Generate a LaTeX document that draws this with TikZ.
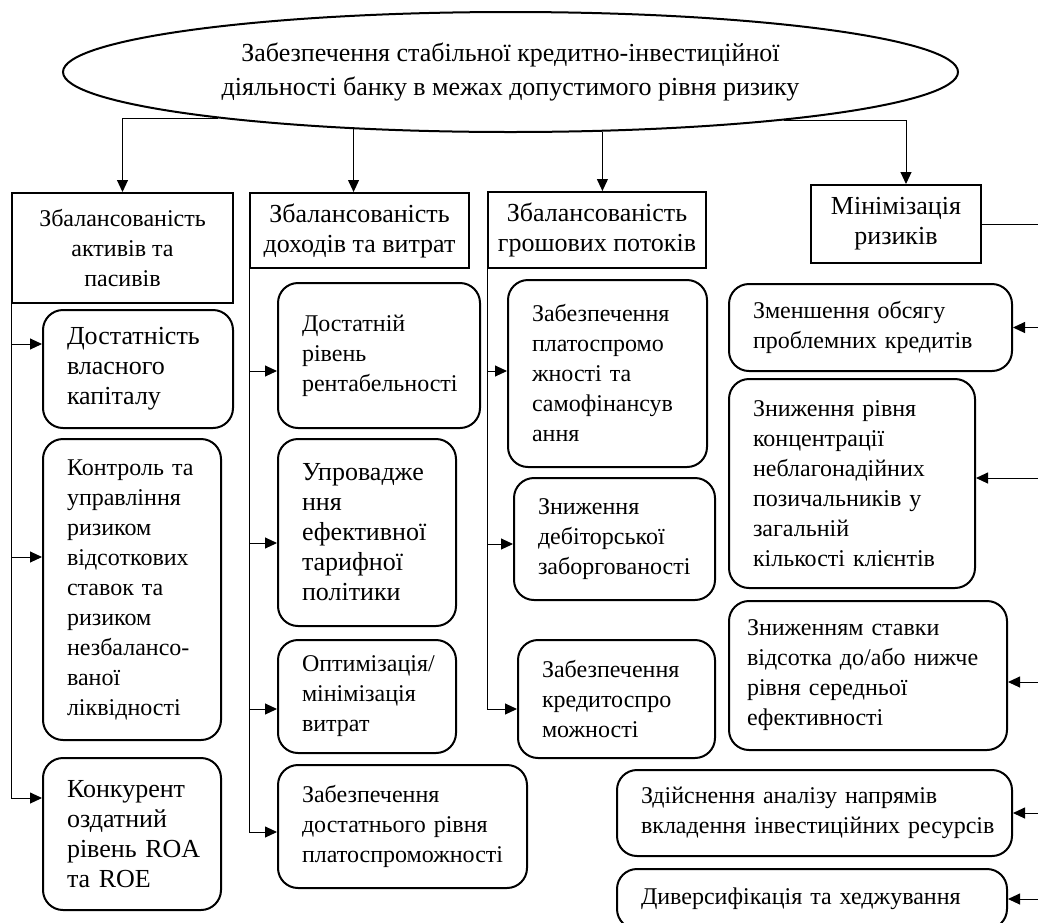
\documentclass[tikz,border=0pt]{standalone}
\usepackage{fontspec}
\setmainfont{Liberation Serif}
\usetikzlibrary{arrows.meta,shapes.geometric}

\begin{document}
\begin{tikzpicture}[x=.5pt,y=-.5pt,
 hd/.style={draw,line width=1pt,align=center,inner sep=2pt,font=\fontsize{12}{15}\selectfont},
 bx/.style={draw,line width=1pt,rounded corners=10pt,align=left,inner xsep=12pt,inner ysep=0pt,font=\fontsize{12}{15}\selectfont},
 big/.style={font=\fontsize{13}{15}\selectfont},
 a/.style={-{Triangle[length=6pt,width=5.5pt]},line width=.5pt},
 ln/.style={line width=.5pt}]
\useasboundingbox (0,0) rectangle (1038,922);
\node[draw,ellipse,line width=1pt,minimum width=447.5pt,minimum height=60pt,inner sep=0pt,align=center,font=\fontsize{13}{17}\selectfont] (top) at (510.5,72)
 {Забезпечення стабільної кредитно-інвестиційної\\діяльності банку в межах допустимого рівня ризику};
% headers
\node[hd,minimum width=110.5pt,minimum height=55pt] (h1) at (122.5,248) {Збалансованість\\активів та\\пасивів};
\node[hd,big,minimum width=109.5pt,minimum height=37.5pt] (h2) at (359.5,230.5) {Збалансованість\\доходів та витрат};
\node[hd,big,minimum width=109pt,minimum height=38pt] (h3) at (597,230) {Збалансованість\\грошових потоків};
\node[hd,big,minimum width=85pt,minimum height=39pt] (h4) at (896,224) {Мінімізація\\ризиків};
% column 1
\node[bx,big,text width=71pt,minimum height=59pt] (a1) at (138,369) {Достатність\\власного\\капіталу};
\node[bx,text width=65pt,minimum height=150.5pt] (a2) at (132,589.5) {Контроль та\\управління\\ризиком\\відсоткових\\ставок та\\ризиком\\незбалансо-\\ваної\\ліквідності};
\node[bx,big,text width=65pt,minimum height=76pt] (a3) at (132,834) {Конкурент\\оздатний\\рівень~ROA\\та ROE};
% column 2
\node[bx,text width=77pt,minimum height=72.5pt] (b1) at (379,355.5) {Достатній\\рівень\\рентабельності};
\node[bx,big,text width=65pt,minimum height=93.5pt] (b2) at (367,532.5) {Упровадже\\ння\\ефективної\\тарифної\\політики};
\node[bx,text width=65pt,minimum height=56.5pt] (b3) at (367,696.5) {Оптимізація/\\мінімізація\\витрат};
\node[bx,text width=100.5pt,minimum height=61.5pt] (b4) at (402.5,826.5) {Забезпечення\\достатнього рівня\\платоспроможності};
% column 3
\node[bx,text width=75.5pt,minimum height=93.5pt] (c1) at (607.5,373.5) {Забезпечення\\платоспромо\\жності та\\самофінансув\\ання};
\node[bx,text width=76.5pt,minimum height=61pt] (c2) at (614.5,539) {Зниження\\дебіторської\\заборгованості};
\node[bx,text width=74.5pt,minimum height=59pt] (c3) at (616.5,699) {Забезпечення\\кредитоспро\\можності};
% column 4
\node[bx,text width=117.5pt,minimum height=43.5pt] (d1) at (870.5,327.5) {Зменшення обсягу\\проблемних кредитів};
\node[bx,text width=99pt,minimum height=104.5pt] (d2) at (852,483.5) {Зниження рівня\\концентрації\\неблагонадійних\\позичальників у\\загальній\\кількості клієнтів};
\node[bx,inner xsep=9pt,text width=121pt,minimum height=74.5pt] (d3) at (868,675.5) {Зниженням ставки\\відсотка~до/або~нижче\\рівня середньої\\ефективності};
\node[bx,text width=173.5pt,minimum height=43pt] (d4) at (814.5,813) {Здійснення аналізу напрямів\\вкладення~інвестиційних~ресурсів};
\node[bx,text width=171pt,minimum height=30pt] (d5) at (812,899) {Диверсифікація та хеджування};
% from the ellipse
\draw[a] (top.189.1) -| (h1.north);
\draw[a] (top.200.44) -- (top.200.44 |- h2.north);
\draw[a] (top.327.6) -- (top.327.6 |- h3.north);
\draw[a] (top.350.9) -| ([xshift=5pt]h4.north);
% arrow ends
\foreach \n/\s in {a1/12.5,a2/16.25,a3/18,b1/-7.75,b2/-5.25,b3/-6.25,b4/-2.75,c1/1.25,c2/-2.5,c3/-5}
 \coordinate (\n-in) at ([yshift=\s pt]\n.west);
\foreach \n/\s in {d1/0,d2/2.75,d3/-3.25,d4/0,d5/0}
 \coordinate (\n-in) at ([yshift=\s pt]\n.east);
% left buses
\draw[ln] (h1.south west) -- (h1.south west |- a3-in);
\foreach \t in {a1,a2,a3} \draw[a] (h1.south west |- \t-in) -- (\t-in);
\draw[ln] (h2.south west) -- (h2.south west |- b4-in);
\foreach \t in {b1,b2,b3,b4} \draw[a] (h2.south west |- \t-in) -- (\t-in);
\draw[ln] (h3.south west) -- (h3.south west |- c3-in);
\foreach \t in {c1,c2,c3} \draw[a] (h3.south west |- \t-in) -- (\t-in);
% right bus
\coordinate (rbus) at (1046,224);
\draw[ln] (h4.east) -- (rbus) -- (rbus |- d5-in);
\foreach \t in {d1,d2,d3,d4,d5} \draw[a] (rbus |- \t-in) -- (\t-in);
\end{tikzpicture}
\end{document}
